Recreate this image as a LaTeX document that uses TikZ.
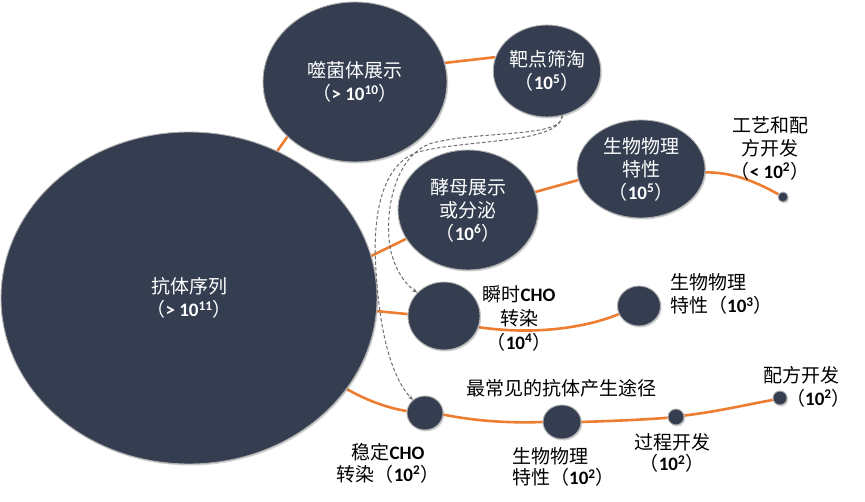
\documentclass[tikz,border=0pt]{standalone}
\usepackage{fontspec}
\setmainfont{Noto Sans CJK SC}
\newfontfamily\calfont{Carlito}
\usetikzlibrary{shapes.geometric,shadows,arrows.meta,backgrounds}
\definecolor{navy}{RGB}{52,62,80}
\definecolor{ora}{RGB}{237,125,49}
\definecolor{rim}{RGB}{175,175,175}
\definecolor{dgray}{RGB}{110,110,110}
\newcommand\nm[2]{{\calfont\bfseries #1\textsuperscript{#2}}}
\newcommand\cho{{\calfont\bfseries CHO}}
\begin{document}
\begin{tikzpicture}[x=1pt,y=-1pt,
  bub/.style={ellipse, fill=navy, draw=rim, line width=0.9pt, inner sep=0pt,
    text=white, align=center, font=\fontsize{19}{23}\selectfont,
    drop shadow={opacity=0.35, shadow xshift=1.2pt, shadow yshift=-1.5pt}},
  lab/.style={align=center, font=\fontsize{19}{23}\selectfont, text=black, inner sep=0pt},
  link/.style={draw=ora, line width=2.6pt},
  dashlink/.style={draw=dgray, dash pattern=on 3.5pt off 2.2pt, line width=1pt,
    -{Stealth[length=5pt,width=4pt]}}]
\useasboundingbox (0,0) rectangle (865,502);
% bubbles
\node[bub, minimum width=376pt, minimum height=332pt] (big) at (189,298) {抗体序列\\（\nm{> 10}{11}）};
\node[bub, minimum width=184pt, minimum height=160pt] (phage) at (355,82) {噬菌体展示\\（\nm{> 10}{10}）};
\node[bub, minimum width=100pt, minimum height=92pt] (target) at (547,71) {靶点筛淘\\（\nm{10}{5}）};
\node[bub, minimum width=140pt, minimum height=120pt] (yeast) at (468,210) {酵母展示\\或分泌\\（\nm{10}{6}）};
\node[bub, minimum width=128pt, minimum height=98pt] (bio5) at (641,169) {生物物理\\特性\\（\nm{10}{5}）};
\node[bub, minimum width=10pt, minimum height=10pt] (dot1) at (783,197) {};
\node[bub, minimum width=72pt, minimum height=68pt] (cho) at (444,316) {};
\node[bub, minimum width=43pt, minimum height=40pt] (bio3) at (639,306) {};
\node[bub, minimum width=36pt, minimum height=34pt] (stable) at (425,413) {};
\node[bub, minimum width=38pt, minimum height=34pt] (bio2) at (562,422) {};
\node[bub, minimum width=16pt, minimum height=16pt] (proc) at (676,417) {};
\node[bub, minimum width=14pt, minimum height=14pt] (form) at (780,398) {};
% labels
\node[lab] (l1) at (770,148) {工艺和配\\方开发\\（\nm{< 10}{2}）};
\node[lab, font=\fontsize{19}{24}\selectfont] (l2) at (519,318) {瞬时\cho\\转染\\（\nm{10}{4}）};
\node[lab, align=left, anchor=west] (l3) at (670,294) {生物物理\\特性（\nm{10}{3}）};
\node[lab] (title) at (561,388) {最常见的抗体产生途径};
\node[lab, font=\fontsize{19}{22}\selectfont] (l4) at (388,463) {稳定\cho\\转染（\nm{10}{2}）};
\node[lab, align=left, anchor=west, font=\fontsize{19}{21}\selectfont] (l5) at (512,467) {生物物理\\特性（\nm{10}{2}）};
\node[lab, font=\fontsize{19}{21}\selectfont] (l6) at (672,453) {过程开发\\（\nm{10}{2}）};
\node[lab] (l7) at (801,375) {配方开发};
\node[lab, anchor=west] (l8) at (786,398) {（\nm{10}{2}）};
% connectors
\begin{scope}[on background layer]
\draw[link] (big.59) -- (phage.219);
\draw[link] (phage.12) -- (target.165);
\draw[link] (big.13) -- (yeast.205);
\draw[link] (yeast.15) -- (bio5.190);
\draw[link] (bio5.-3) .. controls (735,172) and (760,184) .. (dot1.150);
\draw[link] (big.-4) -- (cho.177);
\draw[link] (cho.-18) .. controls (540,336) and (590,326) .. (bio3.202);
\draw[link] (big.-30) .. controls (368,401) and (388,408) .. (stable.174);
\draw[link] (stable.-5) .. controls (480,422) and (515,423) .. (bio2.180);
\draw[link] (bio2.0) .. controls (610,421) and (640,420) .. (proc.185);
\draw[link] (proc.10) .. controls (715,412) and (750,404) .. (form.195);
\end{scope}
% dashed arrows
\draw[dashlink] (target.-71) .. controls (563,138) and (485,130) .. (432,143)
  .. controls (394,155) and (383,215) .. (391,252)
  .. controls (396,270) and (403,282) .. (cho.139);
\draw[dashlink] (target.-71) .. controls (560,144) and (468,139) .. (418,152)
  .. controls (382,164) and (372,215) .. (376,270)
  .. controls (380,340) and (394,380) .. (stable.133);
\end{tikzpicture}
\end{document}
